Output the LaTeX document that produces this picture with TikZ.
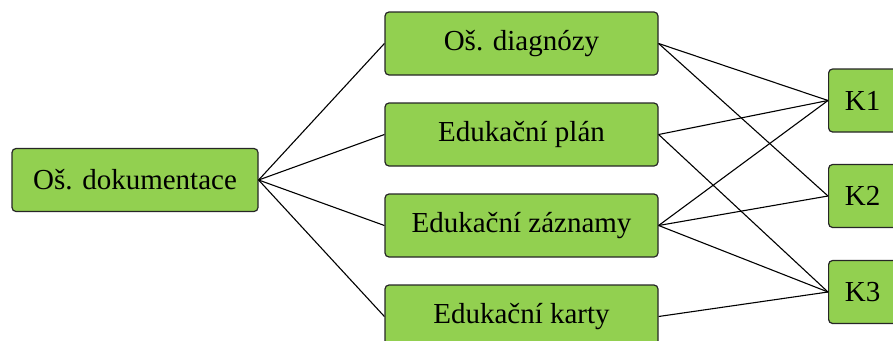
\documentclass[tikz,border=0pt]{standalone}
\usepackage{fontspec}
\setmainfont{Liberation Serif}
\newfontfamily\boxfont{Liberation Serif}
\begin{document}
\definecolor{boxgreen}{RGB}{146,208,80}
\begin{tikzpicture}[x=1pt,y=-1pt,
  box/.style={draw=black!85, line width=1.2pt, fill=boxgreen, rounded corners=4pt,
    minimum height=63pt, inner sep=0pt, font=\boxfont\fontsize{29}{34}\selectfont},
  link/.style={draw=black, line width=1.1pt}]
\useasboundingbox (0,0) rectangle (893,340);
\node[box, minimum width=246pt] (doc) at (135,180) {Oš. dokumentace};
\node[box, minimum width=273pt] (diag) at (521.5,43.5) {Oš. diagnózy};
\node[box, minimum width=273pt] (plan) at (521.5,134.5) {Edukační plán};
\node[box, minimum width=273pt] (zaz) at (521.5,225.5) {Edukační záznamy};
\node[box, minimum width=273pt] (karty) at (521.5,316.5) {Edukační karty};
\node[box, minimum width=120pt, anchor=west] (k1) at (828,100.5) {\hspace*{-52pt}K1};
\node[box, minimum width=120pt, anchor=west] (k2) at (828,196) {\hspace*{-52pt}K2};
\node[box, minimum width=120pt, anchor=west] (k3) at (828,292) {\hspace*{-52pt}K3};
\foreach \t in {diag,plan,zaz,karty}
  \draw[link] (doc.east) -- (\t.west);
\draw[link] (diag.east) -- (k1.west);
\draw[link] (diag.east) -- (k2.west);
\draw[link] (plan.east) -- (k1.west);
\draw[link] (plan.east) -- (k3.west);
\draw[link] (zaz.east) -- (k1.west);
\draw[link] (zaz.east) -- (k2.west);
\draw[link] (zaz.east) -- (k3.west);
\draw[link] (karty.east) -- (k3.west);
\end{tikzpicture}
\end{document}
